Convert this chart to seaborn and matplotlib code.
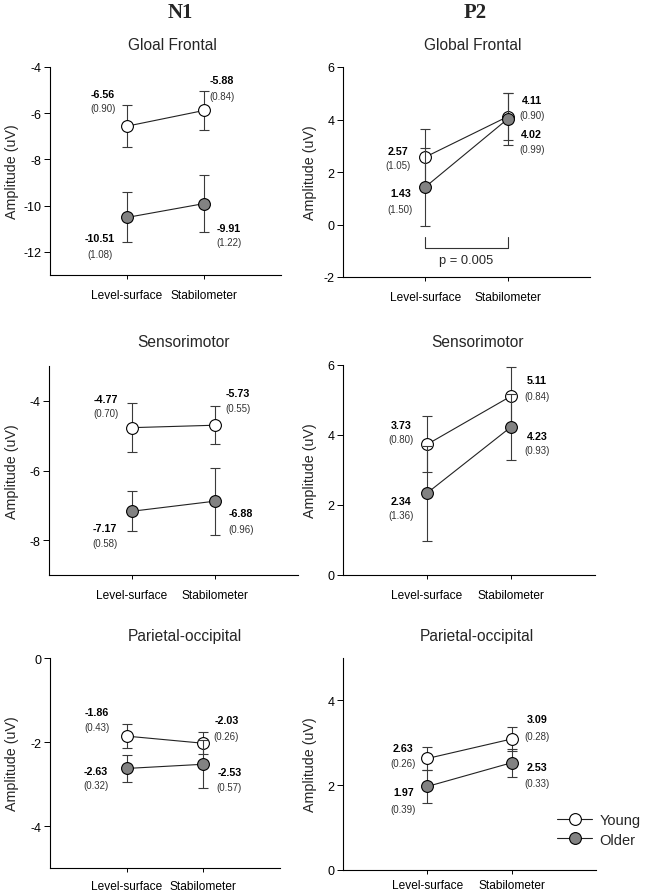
import numpy as np
import pandas as pd
import matplotlib
matplotlib.use("Agg")
import matplotlib.pyplot as plt
import seaborn as sns

# ---------------- data ----------------
conditions = ["Level-surface", "Stabilometer"]
groups = ["Young", "Older"]

n1_titles = ["Gloal Frontal", "Sensorimotor", "Parietal-occipital"]
p2_titles = ["Global Frontal", "Sensorimotor", "Parietal-occipital"]

# plotted means / error bars
n1_young_mean = [[-6.56, -5.88], [-4.77, -4.70], [-1.86, -2.03]]
n1_young_err = [[0.90, 0.84], [0.70, 0.55], [0.28, 0.26]]
n1_older_mean = [[-10.51, -9.91], [-7.17, -6.88], [-2.63, -2.53]]
n1_older_err = [[1.08, 1.22], [0.58, 0.96], [0.32, 0.57]]

p2_young_mean = [[2.57, 4.11], [3.73, 5.11], [2.63, 3.09]]
p2_young_err = [[1.05, 0.90], [0.80, 0.84], [0.26, 0.28]]
p2_older_mean = [[1.43, 4.02], [2.34, 4.23], [1.97, 2.53]]
p2_older_err = [[1.50, 0.99], [1.36, 0.93], [0.39, 0.33]]

# printed value labels
n1_young_txt = [["-6.56", "-5.88"], ["-4.77", "-5.73"], ["-1.86", "-2.03"]]
n1_young_sd_txt = [["(0.90)", "(0.84)"], ["(0.70)", "(0.55)"], ["(0.43)", "(0.26)"]]
n1_older_txt = [["-10.51", "-9.91"], ["-7.17", "-6.88"], ["-2.63", "-2.53"]]
n1_older_sd_txt = [["(1.08)", "(1.22)"], ["(0.58)", "(0.96)"], ["(0.32)", "(0.57)"]]
p2_young_txt = [["2.57", "4.11"], ["3.73", "5.11"], ["2.63", "3.09"]]
p2_young_sd_txt = [["(1.05)", "(0.90)"], ["(0.80)", "(0.84)"], ["(0.26)", "(0.28)"]]
p2_older_txt = [["1.43", "4.02"], ["2.34", "4.23"], ["1.97", "2.53"]]
p2_older_sd_txt = [["(1.50)", "(0.99)"], ["(1.36)", "(0.93)"], ["(0.39)", "(0.33)"]]

n1_ylims = [(-13, -4), (-9, -3), (-5, 0)]
n1_yticks = [[-12, -10, -8, -6, -4], [-8, -6, -4], [-4, -2, 0]]
p2_ylims = [(-2, 6), (0, 6), (0, 5)]
p2_yticks = [[-2, 0, 2, 4, 6], [0, 2, 4, 6], [0, 2, 4]]

p_text = "p = 0.005"

# ---------------- layout (styling) ----------------
W, H = 645, 895
axes_px = {  # (left, right, top, bottom) in pixels
    (0, 0): (50, 281, 68, 276), (0, 1): (343, 590, 68, 278),
    (1, 0): (49, 298, 367, 576), (1, 1): (343, 595, 366, 576),
    (2, 0): (50, 280, 659, 869), (2, 1): (343, 596, 659, 871),
}
title_px = {
    (0, 0): (172, 45), (0, 1): (473, 45),
    (1, 0): (183, 343), (1, 1): (477, 343),
    (2, 0): (185, 637), (2, 1): (477, 637),
}
xpad = {(0, 0): 7, (0, 1): 7, (1, 0): 7, (1, 1): 7, (2, 0): 6, (2, 1): 3.5}
ylabel_right_px = [19, 317]
# label offsets in pixels (dx, dy_bold, dy_sd) per [row][col][group][cond]
offs = {
    (0, 0): [[(-24, 32, 18), (18, 30, 14)], [(-27, -21, -37), (25, -24, -38)]],
    (0, 1): [[(-27, 6, -8), (24, 17, 2)], [(-25, -6, -22), (24, -15, -30)]],
    (1, 0): [[(-26, 29, 15), (23, 32, 17)], [(-27, -17, -32), (26, -12, -28)]],
    (1, 1): [[(-26, 19, 5), (26, 16, 0)], [(-26, -8, -22), (26, -9, -23)]],
    (2, 0): [[(-30, 24, 9), (23, 23, 7)], [(-31, -3, -17), (26, -8, -23)]],
    (2, 1): [[(-24, 10, -5), (25, 20, 3)], [(-24, -6, -23), (25, -4, -20)]],
}

sns.set_style("ticks")
plt.rcParams["font.family"] = ["Liberation Sans", "DejaVu Sans"]

fig = plt.figure(figsize=(W / 100, H / 100), dpi=100)

face = {"Young": "white", "Older": "#828282"}
z = {"Young": (2, 3), "Older": (4, 5)}

handles, labels = None, None
for comp_i, (comp, titles, ym, ye, om, oe, yt, yst, ot, ost, ylims, yticks) in enumerate([
    ("N1", n1_titles, n1_young_mean, n1_young_err, n1_older_mean, n1_older_err,
     n1_young_txt, n1_young_sd_txt, n1_older_txt, n1_older_sd_txt, n1_ylims, n1_yticks),
    ("P2", p2_titles, p2_young_mean, p2_young_err, p2_older_mean, p2_older_err,
     p2_young_txt, p2_young_sd_txt, p2_older_txt, p2_older_sd_txt, p2_ylims, p2_yticks),
]):
    for r in range(3):
        l, rr, t, b = axes_px[(r, comp_i)]
        ax = fig.add_axes([l / W, 1 - b / H, (rr - l) / W, (b - t) / H])
        means = {"Young": ym[r], "Older": om[r]}
        errs = {"Young": ye[r], "Older": oe[r]}
        txts = {"Young": (yt[r], yst[r]), "Older": (ot[r], ost[r])}
        for gi, g in enumerate(groups):
            df = pd.DataFrame({"condition": conditions, "amp": means[g]})
            ax.errorbar(df["condition"], df["amp"], yerr=errs[g], fmt="none",
                        ecolor="#3a3a3a", elinewidth=0.8, capsize=3.5,
                        capthick=0.8, zorder=z[g][0])
            sns.lineplot(data=df, x="condition", y="amp", ax=ax, color="#222222",
                         lw=0.8, marker="o", markersize=8.5,
                         markerfacecolor=face[g], markeredgecolor="black",
                         markeredgewidth=0.8, label=g, zorder=z[g][1],
                         legend=False)
            for ci, c in enumerate(conditions):
                dx, dyb, dys = offs[(r, comp_i)][gi][ci]
                ax.annotate(txts[g][0][ci], xy=(ci, means[g][ci]),
                            xytext=(dx, dyb), textcoords="offset pixels",
                            ha="center", va="center", fontsize=7.7,
                            fontweight="bold", color="black", zorder=6)
                ax.annotate(txts[g][1][ci], xy=(ci, means[g][ci]),
                            xytext=(dx, dys), textcoords="offset pixels",
                            ha="center", va="center", fontsize=7,
                            color="#333333", zorder=6)
        ax.set_xlim(-1, 2)
        ax.set_ylim(*ylims[r])
        ax.set_yticks(yticks[r])
        ax.set_yticklabels([f"{v:g}" for v in yticks[r]])
        ax.set_xticks([0, 1])
        ax.set_xticklabels(conditions)
        ax.set_xlabel("")
        ax.set_ylabel("Amplitude (uV)", fontsize=10.3)
        ax.yaxis.set_label_coords((ylabel_right_px[comp_i] - l) / (rr - l), 0.5)
        for s in ["top", "right"]:
            ax.spines[s].set_visible(False)
        for s in ["left", "bottom"]:
            ax.spines[s].set_linewidth(0.8)
            ax.spines[s].set_color("black")
        ax.tick_params(axis="x", length=3, width=0.7, pad=xpad[(r, comp_i)],
                       labelsize=8.6, direction="out", colors="black")
        ax.tick_params(axis="y", length=4, width=0.7, pad=2, labelsize=9,
                       direction="out", colors="black")
        fig.text(title_px[(r, comp_i)][0] / W, 1 - title_px[(r, comp_i)][1] / H,
                 titles[r], ha="center", va="center", fontsize=11.2)
        if comp_i == 1 and r == 0:
            # significance bracket
            ax.plot([0, 0, 1, 1], [-0.46, -0.88, -0.88, -0.46], color="#333333",
                    lw=0.8, zorder=1)
            ax.text(0.5, -1.37, p_text, ha="center", va="center", fontsize=9.3)
        if comp_i == 1 and r == 2:
            handles, labels = ax.get_legend_handles_labels()

fig.text(180 / W, 1 - 13 / H, "N1", ha="center", va="center", fontsize=15,
         fontweight="bold", family=["Liberation Serif", "DejaVu Serif"])
fig.text(475 / W, 1 - 13 / H, "P2", ha="center", va="center", fontsize=15,
         fontweight="bold", family=["Liberation Serif", "DejaVu Serif"])

fig.legend(handles, labels, loc="center left", bbox_to_anchor=(557 / W, 1 - 831 / H),
           frameon=False, fontsize=10.5, handlelength=2.4, handletextpad=0.5,
           labelspacing=0.35, borderpad=0, borderaxespad=0)

fig.savefig("out.png", dpi=100, facecolor="white")
